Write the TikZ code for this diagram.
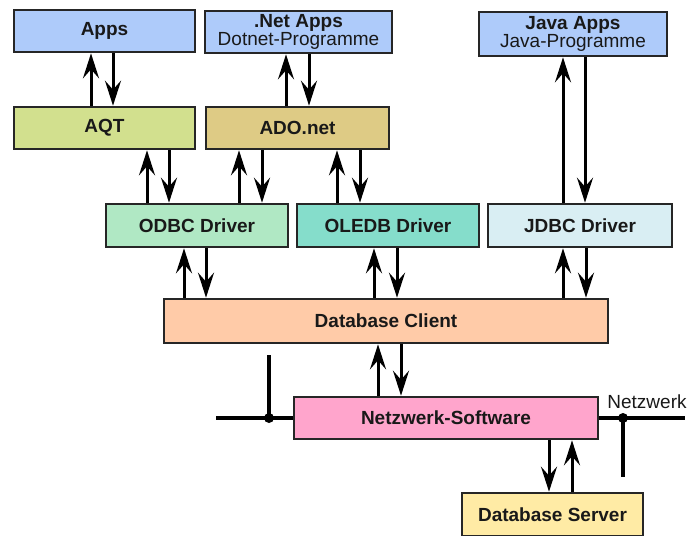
\documentclass[tikz,border=0pt]{standalone}
\usepackage{fontspec}
\setmainfont{Liberation Sans}
\usetikzlibrary{arrows.meta}
\definecolor{cApps}{HTML}{AECBFA}
\definecolor{cAqt}{HTML}{D2E08E}
\definecolor{cAdo}{HTML}{DECB85}
\definecolor{cOdbc}{HTML}{B0E8C4}
\definecolor{cOledb}{HTML}{85DDCB}
\definecolor{cJdbc}{HTML}{D9EEF3}
\definecolor{cClient}{HTML}{FFCBA8}
\definecolor{cNet}{HTML}{FFA5CC}
\definecolor{cServer}{HTML}{FFEBA5}
\tikzset{
  box/.style={draw=black!85, line width=2.6pt, inner sep=0pt, align=center,
    font=\fontsize{19}{18}\selectfont\bfseries, text=black!90},
  arr/.style={line width=3pt, -{Stealth[length=25pt,width=16pt,inset=9pt]}},
  netline/.style={line width=4pt}
}
\begin{document}
\begin{tikzpicture}[x=1pt,y=-1pt]
\useasboundingbox (0,0) rectangle (692,535);
% boxes
\node[box, fill=cApps, minimum width=181pt, minimum height=42pt] (apps) at (104.5,31) {Apps};
\node[box, fill=cApps, minimum width=187pt, minimum height=42pt] (dnet) at (298.5,32) {.Net Apps\\\mdseries Dotnet-Programme};
\node[box, fill=cApps, minimum width=188pt, minimum height=44pt] (java) at (573,34) {Java Apps\\\mdseries Java-Programme};
\node[box, fill=cAqt, minimum width=181pt, minimum height=42pt] (aqt) at (104.5,128) {AQT};
\node[box, fill=cAdo, minimum width=183pt, minimum height=42pt] (ado) at (297.5,128) {ADO.net};
\node[box, fill=cOdbc, minimum width=182pt, minimum height=43pt] (odbc) at (197,225.5) {ODBC Driver};
\node[box, fill=cOledb, minimum width=182pt, minimum height=43pt] (oledb) at (388,225.5) {OLEDB Driver};
\node[box, fill=cJdbc, minimum width=184pt, minimum height=43pt] (jdbc) at (580,225.5) {JDBC Driver};
\node[box, fill=cClient, minimum width=444pt, minimum height=44pt] (client) at (386,321) {Database Client};
\node[box, fill=cNet, minimum width=304pt, minimum height=42pt] (netsw) at (446,418) {Netzwerk-Software};
\node[box, fill=cServer, minimum width=181pt, minimum height=43pt] (server) at (552.5,514.5) {Database Server};
% x positions of the arrows
\foreach \n/\v in {a/91,b/113,c/286,d/309,e/563,f/585,g/147,h/169,i/239,j/262,k/337,l/360,m/184,n/206,o/374,p/397,q/563,r/586,s/378,t/401,u/549,v/572}
  \coordinate (x\n) at (\v,0);
% arrows
\draw[arr] (aqt.north -| xa) -- (apps.south -| xa);
\draw[arr] (apps.south -| xb) -- (aqt.north -| xb);
\draw[arr] (ado.north -| xc) -- (dnet.south -| xc);
\draw[arr] (dnet.south -| xd) -- (ado.north -| xd);
\draw[arr] (jdbc.north -| xe) -- (java.south -| xe);
\draw[arr] (java.south -| xf) -- (jdbc.north -| xf);
\draw[arr] (odbc.north -| xg) -- (aqt.south -| xg);
\draw[arr] (aqt.south -| xh) -- (odbc.north -| xh);
\draw[arr] (odbc.north -| xi) -- (ado.south -| xi);
\draw[arr] (ado.south -| xj) -- (odbc.north -| xj);
\draw[arr] (oledb.north -| xk) -- (ado.south -| xk);
\draw[arr] (ado.south -| xl) -- (oledb.north -| xl);
\draw[arr] (client.north -| xm) -- (odbc.south -| xm);
\draw[arr] (odbc.south -| xn) -- (client.north -| xn);
\draw[arr] (client.north -| xo) -- (oledb.south -| xo);
\draw[arr] (oledb.south -| xp) -- (client.north -| xp);
\draw[arr] (client.north -| xq) -- (jdbc.south -| xq);
\draw[arr] (jdbc.south -| xr) -- (client.north -| xr);
\draw[arr] (netsw.north -| xs) -- (client.south -| xs);
\draw[arr] (client.south -| xt) -- (netsw.north -| xt);
\draw[arr] (netsw.south -| xu) -- (server.north -| xu);
\draw[arr] (server.north -| xv) -- (netsw.south -| xv);
% network
\coordinate (nl) at (216,418);
\coordinate (nr) at (685,418);
\coordinate (jl) at (269,418);
\coordinate (jr) at (623,418);
\coordinate (tl) at (269,355);
\coordinate (br) at (623,477);
\draw[netline] (nl) -- (netsw.west);
\draw[netline] (netsw.east) -- (nr);
\draw[netline] (tl) -- (jl);
\draw[netline] (jr) -- (br);
\fill (jl) circle (5pt);
\fill (jr) circle (5pt);
\node[font=\fontsize{19}{19}\selectfont, text=black!90, inner sep=0pt] (nlabel) at (647,402) {Netzwerk};
\end{tikzpicture}
\end{document}
